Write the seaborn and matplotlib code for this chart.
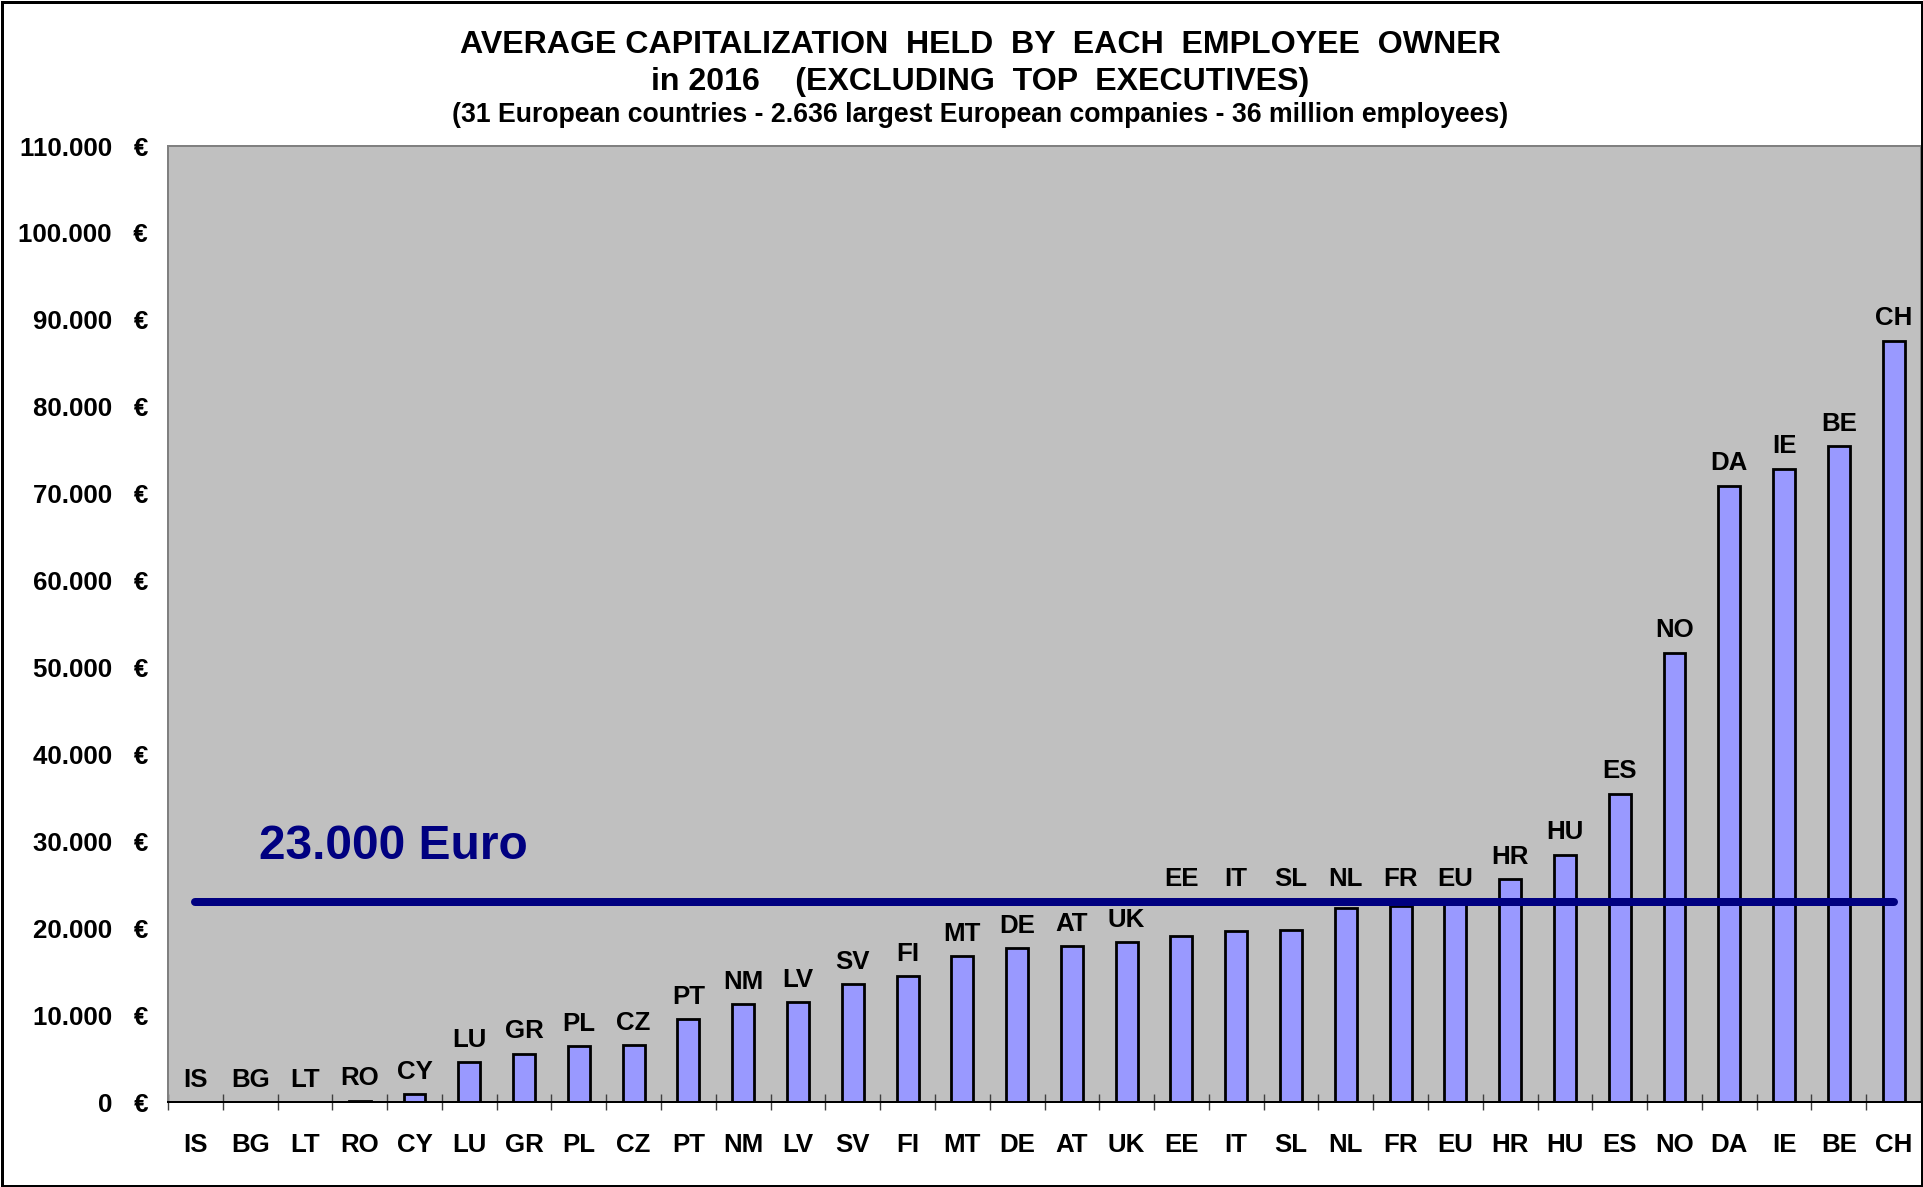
import matplotlib
matplotlib.use("Agg")
import matplotlib.pyplot as plt
from matplotlib.patches import Rectangle
from matplotlib.ticker import FixedLocator
import numpy as np
import pandas as pd
import seaborn as sns

# Average capitalization held by each employee owner, 2016 (EUR)
countries = ["IS", "BG", "LT", "RO", "CY", "LU", "GR", "PL", "CZ", "PT", "NM",
             "LV", "SV", "FI", "MT", "DE", "AT", "UK", "EE", "IT", "SL", "NL",
             "FR", "EU", "HR", "HU", "ES", "NO", "DA", "IE", "BE", "CH"]
capital = [0, 0, 0, 200, 900, 4630, 5590, 6440, 6590, 9570, 11300,
           11530, 13600, 14520, 16820, 17700, 17970, 18430, 19120, 19720, 19770, 22340,
           22570, 23300, 25630, 28450, 35490, 51710, 70920, 72870, 75470, 87590]
eu_average = 23000
avg_label = "23.000 Euro"
y_ticks = list(range(0, 110001, 10000))

title_1 = "AVERAGE CAPITALIZATION  HELD  BY  EACH  EMPLOYEE  OWNER"
title_2 = "in 2016    (EXCLUDING  TOP  EXECUTIVES)"
title_3 = "(31 European countries - 2.636 largest European companies - 36 million employees)"

sns.set_style("white")
plt.rcParams["font.family"] = ["Liberation Sans", "DejaVu Sans"]
plt.rcParams["font.weight"] = "bold"
plt.rcParams["text.color"] = "black"

W, H = 1923, 1187
PX = 0.72  # points per pixel at 100 dpi
fig = plt.figure(figsize=(W / 100, H / 100), dpi=100)
fig.patch.set_facecolor("white")

ax = fig.add_axes([168 / W, 1 - 1102.3 / H, (1921 - 168) / W, (1102.3 - 146) / H])
ax.set_facecolor("#C0C0C0")

df = pd.DataFrame({"country": countries, "capital": capital})
sns.barplot(data=df, x="country", y="capital", color="#9999FF", saturation=1,
            width=0.4, edgecolor="black", linewidth=2.0, errorbar=None,
            ax=ax, zorder=2)

ax.set_xlim(-0.5, len(countries) - 0.5)
ax.set_ylim(0, 110000)

# y axis: euro amounts with dot thousands separator
ax.set_yticks(y_ticks)
ax.set_yticklabels([f"{v:,.0f}".replace(",", ".") + "   €" for v in y_ticks])
ax.tick_params(axis="y", direction="inout", length=16 * PX, width=1,
               color="#404040", pad=12 * PX, labelsize=18.6, labelcolor="black")

# x axis: labels centred under bars, tick marks between categories
ax.xaxis.set_minor_locator(FixedLocator(np.arange(-0.5, len(countries) - 1, 1.0)))
ax.tick_params(axis="x", which="minor", direction="inout", length=16 * PX,
               width=1, color="#404040", bottom=True)
ax.tick_params(axis="x", which="major", length=0, pad=31 * PX, labelsize=18.6,
               labelcolor="black")
for lab in ax.get_xticklabels() + ax.get_yticklabels():
    lab.set_fontweight("bold")
ax.set_xlabel("")
ax.set_ylabel("")

for side in ("top", "left", "right"):
    ax.spines[side].set_color("#808080")
    ax.spines[side].set_linewidth(2 * PX)
ax.spines["bottom"].set_color("black")
ax.spines["bottom"].set_linewidth(2 * PX)

# EU average reference line
ax.plot([0, len(countries) - 1], [eu_average, eu_average], color="#000080",
        lw=8 * PX, solid_capstyle="round", zorder=3)
ax.text(1.16, eu_average + 4950, avg_label, color="#000080", fontsize=34.5,
        fontweight="bold", ha="left", va="baseline", zorder=4)

# country codes above the bars; those close to the average line sit above it
for i, (code, val) in enumerate(zip(countries, capital)):
    lifted = eu_average - 4200 < val < eu_average + 1500
    base = eu_average if lifted else val
    off = 16 if lifted else 15.5
    ax.annotate(code, (i, base), xytext=(0, off * PX), textcoords="offset points",
                ha="center", va="baseline", fontsize=18.6, fontweight="bold",
                color="black", zorder=4)

# titles
cx = 980 / W
fig.text(cx, 1 - 53.3 / H, title_1, ha="center", va="baseline", fontsize=23.1,
         fontweight="bold", color="black")
fig.text(cx, 1 - 90.3 / H, title_2, ha="center", va="baseline", fontsize=23.1,
         fontweight="bold", color="black")
fig.text(cx, 1 - 121.5 / H, title_3, ha="center", va="baseline", fontsize=19.2,
         fontweight="bold", color="black")

# outer frame
fig.patches.append(Rectangle((1.5 / W, 1.5 / H), 1 - 3 / W, 1 - 3 / H,
                             transform=fig.transFigure, fill=False,
                             edgecolor="black", lw=3 * PX, zorder=10))

fig.savefig("out.png", dpi=100, facecolor="white")
